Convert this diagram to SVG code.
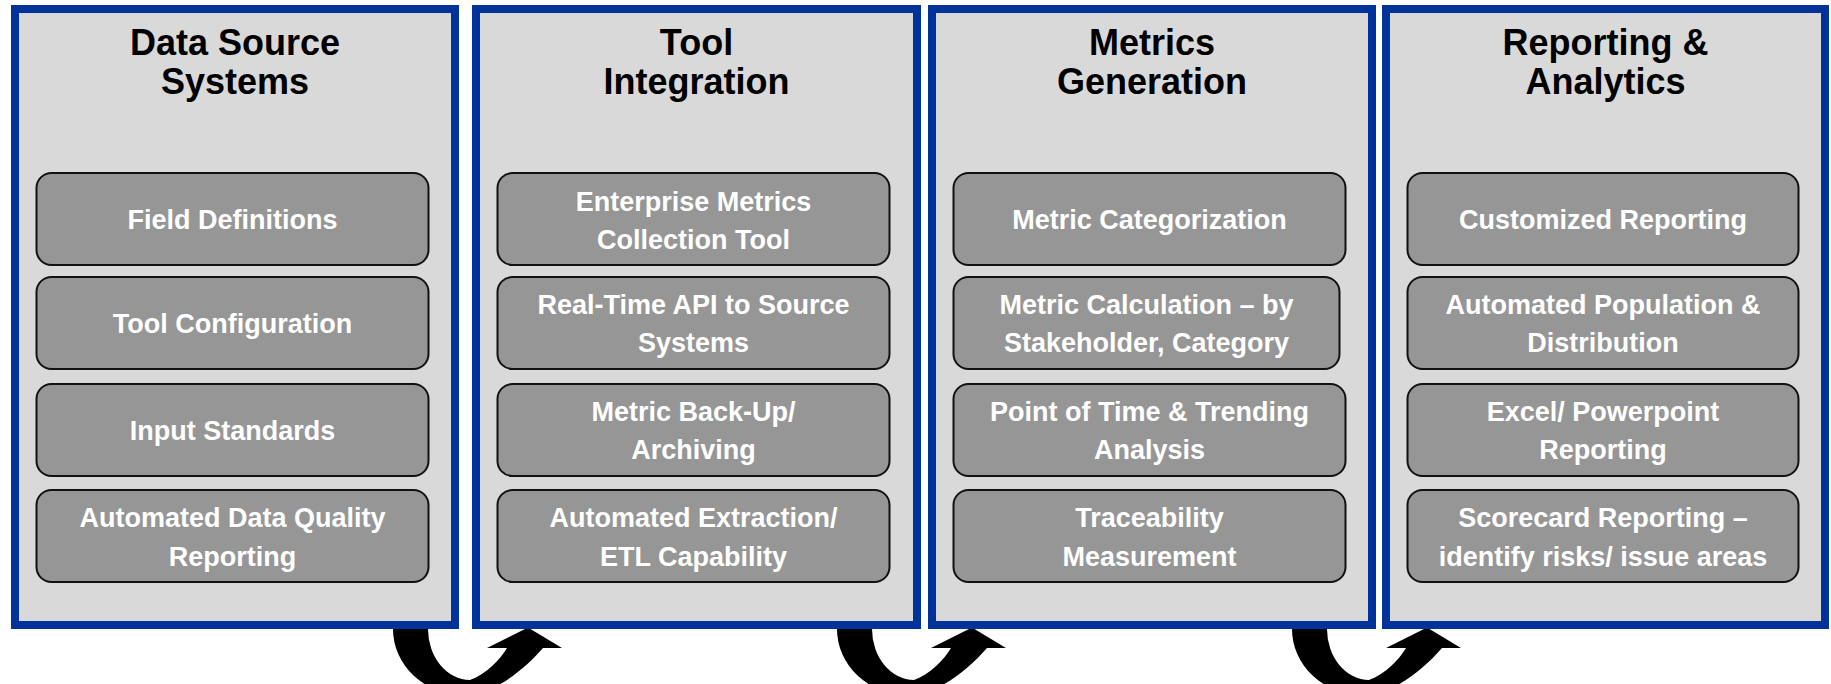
<svg xmlns="http://www.w3.org/2000/svg" width="1831" height="684" viewBox="0 0 1831 684">
<style>
.panel{fill:#d9d9d9;stroke:#003399;stroke-width:8}
.box{fill:#969696;stroke:#111;stroke-width:2}
.title{font-family:"Liberation Sans",Arial,sans-serif;font-weight:bold;font-size:36px;fill:#000;text-anchor:middle}
.bt{font-family:"Liberation Sans",Arial,sans-serif;font-weight:bold;font-size:27px;fill:#fff;text-anchor:middle}
.arrow{fill:#000}
</style>
<defs>
<path id="uarrow" d="M0,629 A71 66 0 0 0 71,695 C99,695 129,672 150,648 L169,648 L135,627.5 L94,648 L114,648 C107,660 93,674 77,680 A42 51 0 0 1 35,629 Z"/>
</defs>
<g id="connectors">
<use href="#uarrow" class="arrow" x="393"/>
<use href="#uarrow" class="arrow" x="837"/>
<use href="#uarrow" class="arrow" x="1292"/>
</g>
<g id="panel-data-source">
<rect class="panel" x="15" y="9" width="440" height="616"/>
<text class="title" x="235" y="55">Data Source</text>
<text class="title" x="235" y="94">Systems</text>
<rect class="box" x="36.5" y="173" width="392" height="92" rx="15"/>
<text class="bt" x="232.5" y="229">Field Definitions</text>
<rect class="box" x="36.5" y="277" width="392" height="92" rx="15"/>
<text class="bt" x="232.5" y="333">Tool Configuration</text>
<rect class="box" x="36.5" y="384" width="392" height="92" rx="15"/>
<text class="bt" x="232.5" y="440">Input Standards</text>
<rect class="box" x="36.5" y="490" width="392" height="92" rx="15"/>
<text class="bt" x="232.5" y="527">Automated Data Quality</text>
<text class="bt" x="232.5" y="566">Reporting</text>
</g>
<g id="panel-tool-integration">
<rect class="panel" x="476" y="9" width="441" height="616"/>
<text class="title" x="696.5" y="55">Tool</text>
<text class="title" x="696.5" y="94">Integration</text>
<rect class="box" x="497.5" y="173" width="392" height="92" rx="15"/>
<text class="bt" x="693.5" y="211">Enterprise Metrics</text>
<text class="bt" x="693.5" y="249">Collection Tool</text>
<rect class="box" x="497.5" y="277" width="392" height="92" rx="15"/>
<text class="bt" x="693.5" y="314">Real-Time API to Source</text>
<text class="bt" x="693.5" y="352">Systems</text>
<rect class="box" x="497.5" y="384" width="392" height="92" rx="15"/>
<text class="bt" x="693.5" y="421">Metric Back-Up/</text>
<text class="bt" x="693.5" y="459">Archiving</text>
<rect class="box" x="497.5" y="490" width="392" height="92" rx="15"/>
<text class="bt" x="693.5" y="527">Automated Extraction/</text>
<text class="bt" x="693.5" y="566">ETL Capability</text>
</g>
<g id="panel-metrics-generation">
<rect class="panel" x="932" y="9" width="440" height="616"/>
<text class="title" x="1152" y="55">Metrics</text>
<text class="title" x="1152" y="94">Generation</text>
<rect class="box" x="953.5" y="173" width="392" height="92" rx="15"/>
<text class="bt" x="1149.5" y="229">Metric Categorization</text>
<rect class="box" x="953.5" y="277" width="386" height="92" rx="15"/>
<text class="bt" x="1146.5" y="314">Metric Calculation – by</text>
<text class="bt" x="1146.5" y="352">Stakeholder, Category</text>
<rect class="box" x="953.5" y="384" width="392" height="92" rx="15"/>
<text class="bt" x="1149.5" y="421">Point of Time &amp; Trending</text>
<text class="bt" x="1149.5" y="459">Analysis</text>
<rect class="box" x="953.5" y="490" width="392" height="92" rx="15"/>
<text class="bt" x="1149.5" y="527">Traceability</text>
<text class="bt" x="1149.5" y="566">Measurement</text>
</g>
<g id="panel-reporting-analytics">
<rect class="panel" x="1386" y="9" width="439" height="616"/>
<text class="title" x="1605.5" y="55">Reporting &amp;</text>
<text class="title" x="1605.5" y="94">Analytics</text>
<rect class="box" x="1407.5" y="173" width="391" height="92" rx="15"/>
<text class="bt" x="1603" y="229">Customized Reporting</text>
<rect class="box" x="1407.5" y="277" width="391" height="92" rx="15"/>
<text class="bt" x="1603" y="314">Automated Population &amp;</text>
<text class="bt" x="1603" y="352">Distribution</text>
<rect class="box" x="1407.5" y="384" width="391" height="92" rx="15"/>
<text class="bt" x="1603" y="421">Excel/ Powerpoint</text>
<text class="bt" x="1603" y="459">Reporting</text>
<rect class="box" x="1407.5" y="490" width="391" height="92" rx="15"/>
<text class="bt" x="1603" y="527">Scorecard Reporting –</text>
<text class="bt" x="1603" y="566">identify risks/ issue areas</text>
</g>
</svg>
